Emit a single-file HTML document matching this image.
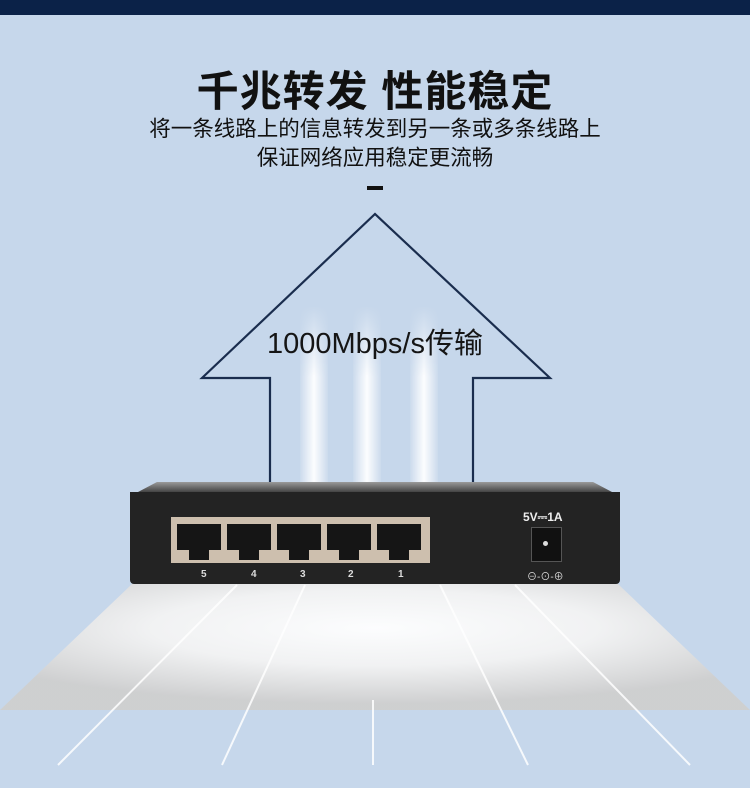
<!DOCTYPE html>
<html><head><meta charset="utf-8"><style>
html,body{margin:0;padding:0}
body{width:750px;height:788px;position:relative;overflow:hidden;background:#c6d7eb;font-family:"Liberation Sans","Noto Sans CJK SC",sans-serif}
.abs{position:absolute}
.t{left:0;width:750px;text-align:center;color:#111}
.col{position:absolute;top:305px;height:180px;width:28px;background:linear-gradient(90deg,rgba(255,255,255,0.1),rgba(255,255,255,0.95) 50%,rgba(255,255,255,0.1));-webkit-mask:linear-gradient(180deg,transparent,#000 40%);mask:linear-gradient(180deg,transparent,#000 40%)}
.port{position:absolute;top:524px;width:44px;height:36px;background:#151515}
.port:after{content:"";position:absolute;left:0;bottom:0;width:12px;height:10px;background:#cdbfae;box-shadow:32px 0 0 #cdbfae}
.lbl{position:absolute;top:569px;color:#ddd;font-size:10px;font-weight:bold}
</style></head><body>
<div class="abs" style="left:0;top:0;width:750px;height:15px;background:#0b2248"></div>
<div class="abs t" style="top:58px;font-size:42px;font-weight:bold;letter-spacing:1px">千兆转发 性能稳定</div>
<div class="abs t" style="top:115px;font-size:21.5px;line-height:29px">将一条线路上的信息转发到另一条或多条线路上<br>保证网络应用稳定更流畅</div>
<div class="abs" style="left:367px;top:186px;width:16px;height:4px;background:#111"></div>

<svg class="abs" style="left:0;top:0" width="750" height="788">
<defs>
<radialGradient id="fl" cx="0.5" cy="0.35" r="0.6"><stop offset="0" stop-color="#fff"/><stop offset="0.5" stop-color="#f3f3f3"/><stop offset="1" stop-color="#cfcfcf"/></radialGradient></defs>
<polyline points="270,482 270,378 202,378 375,214 550,378 473,378 473,482" fill="none" stroke="#1a2d4e" stroke-width="2.2"/>
<polygon points="132,584 618,584 750,710 0,710" fill="url(#fl)" opacity="0.95"/>
<g stroke="#fff" stroke-width="2" opacity="0.85">
<line x1="237" y1="585" x2="58" y2="765"/><line x1="305" y1="585" x2="222" y2="765"/>
<line x1="373" y1="700" x2="373" y2="765"/><line x1="440" y1="585" x2="528" y2="765"/><line x1="515" y1="585" x2="690" y2="765"/></g>
</svg>
<div class="col" style="left:300px"></div><div class="col" style="left:353px"></div><div class="col" style="left:410px"></div>
<div class="abs t" style="top:320px;font-size:29px;color:#151515">1000Mbps/s传输</div>

<div class="abs" style="left:138px;top:482px;width:474px;height:10px;background:linear-gradient(#9a9a9a,#444);clip-path:polygon(4% 0,96% 0,100% 100%,0 100%)"></div>
<div class="abs" style="left:130px;top:492px;width:490px;height:92px;background:#232323;border-radius:0 0 4px 4px"></div>
<div class="abs" style="left:171px;top:517px;width:259px;height:46px;background:#cdbfae"></div>
<div class="port" style="left:177px"></div><div class="port" style="left:227px"></div><div class="port" style="left:277px"></div><div class="port" style="left:327px"></div><div class="port" style="left:377px"></div>
<div class="lbl" style="left:201px">5</div><div class="lbl" style="left:251px">4</div><div class="lbl" style="left:300px">3</div><div class="lbl" style="left:348px">2</div><div class="lbl" style="left:398px">1</div>
<div class="abs" style="left:523px;top:510px;color:#eee;font-size:12px;font-weight:bold">5V⎓1A</div>
<div class="abs" style="left:531px;top:527px;width:29px;height:33px;background:#111;border:1px solid #555"></div>
<div class="abs" style="left:543px;top:541px;width:5px;height:5px;border-radius:50%;background:#ddd"></div>
<div class="abs" style="left:527px;top:568px;color:#ddd;font-size:10px">⊖-⊙-⊕</div>
</body></html>
